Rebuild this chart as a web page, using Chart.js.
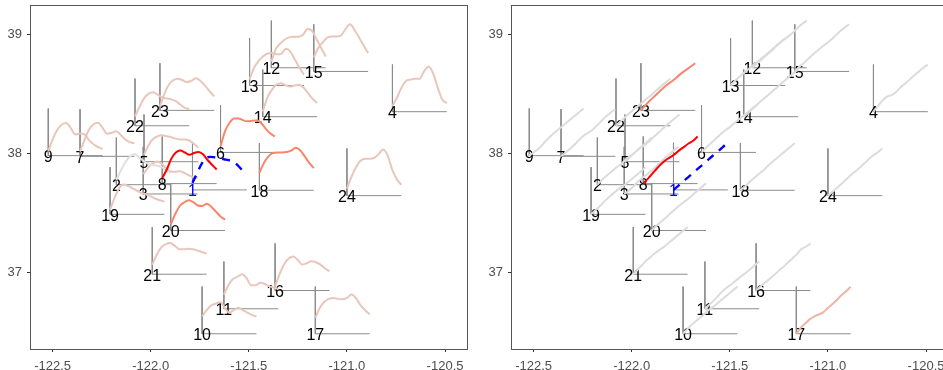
<!DOCTYPE html>
<html>
<head>
<meta charset="utf-8">
<script src="https://cdn.jsdelivr.net/npm/chart.js@4"></script>
<style>
  html, body { margin: 0; padding: 0; background: #fff; overflow: hidden; }
  body { width: 943px; height: 370px; position: relative; }
  .panel { position: absolute; top: 0; width: 471px; height: 370px; }
  #left { left: 0; }
  #right { left: 481px; }
</style>
</head>
<body>
<div class="panel" id="left"><canvas id="seasonChart" width="471" height="370"></canvas></div>
<div class="panel" id="right"><canvas id="trendChart" width="471" height="370"></canvas></div>
<script>
// Station ids and their map position (longitude, latitude)
const stations = ['1','2','3','4','5','6','7','8','9','10','11','12',
                  '13','14','15','16','17','18','19','20','21','22','23','24'];
const lon = [-121.787, -122.175, -122.038, -120.768, -122.034, -121.644, -122.360, -121.941,
             -122.522, -121.738, -121.627, -121.385, -121.496, -121.429, -121.169, -121.366,
             -121.161, -121.446, -122.207, -121.898, -121.992, -122.080, -121.953, -121.000];
const lat = [37.693, 37.737, 37.659, 38.350, 37.930, 38.008, 37.975, 37.746,
             37.981, 36.485, 36.695, 38.719, 38.570, 38.308, 38.688, 36.848,
             36.485, 37.690, 37.488, 37.352, 36.985, 38.232, 38.361, 37.645];

// Axis ticks
const xTicks = [-122.5, -122.0, -121.5, -121.0, -120.5];
const yTicks = [37, 38, 39];

// Seasonal profile per station (scaled 0..1 within the glyph)
const seasonal = [
  [0.15,0.35,0.55,0.68,0.70,0.69,0.67,0.65,0.63,0.60,0.52,0.42,0.36],
  [0.10,0.30,0.48,0.60,0.65,0.58,0.50,0.44,0.42,0.40,0.37,0.30,0.25],
  [0.42,0.55,0.64,0.69,0.65,0.55,0.48,0.47,0.48,0.45,0.40,0.36,0.34],
  [0.12,0.30,0.51,0.65,0.68,0.70,0.70,0.86,0.96,0.81,0.51,0.26,0.18],
  [0.15,0.35,0.48,0.54,0.56,0.54,0.52,0.49,0.47,0.47,0.45,0.38,0.30],
  [0.13,0.45,0.63,0.72,0.72,0.68,0.66,0.67,0.68,0.62,0.50,0.40,0.34],
  [0.10,0.35,0.57,0.68,0.71,0.60,0.48,0.50,0.53,0.45,0.36,0.30,0.28],
  [0.12,0.30,0.53,0.66,0.70,0.66,0.61,0.65,0.67,0.62,0.50,0.40,0.30],
  [0.09,0.35,0.55,0.66,0.69,0.58,0.45,0.47,0.45,0.33,0.24,0.18,0.14],
  [0.37,0.50,0.60,0.64,0.67,0.55,0.45,0.50,0.55,0.50,0.45,0.40,0.36],
  [0.30,0.50,0.63,0.68,0.73,0.65,0.50,0.50,0.55,0.53,0.48,0.45,0.42],
  [0.13,0.40,0.52,0.60,0.65,0.66,0.66,0.70,0.82,0.78,0.60,0.42,0.24],
  [0.13,0.38,0.52,0.62,0.68,0.69,0.66,0.67,0.78,0.72,0.55,0.38,0.23],
  [0.11,0.40,0.57,0.68,0.71,0.67,0.64,0.66,0.68,0.62,0.50,0.38,0.29],
  [0.30,0.50,0.62,0.72,0.74,0.74,0.76,0.90,1.00,0.88,0.72,0.55,0.39],
  [0.09,0.35,0.56,0.68,0.72,0.65,0.55,0.58,0.62,0.60,0.55,0.47,0.41],
  [0.34,0.55,0.68,0.74,0.76,0.74,0.73,0.76,0.83,0.75,0.60,0.50,0.41],
  [0.37,0.58,0.72,0.79,0.80,0.80,0.81,0.84,0.90,0.85,0.72,0.58,0.47],
  [0.10,0.35,0.55,0.63,0.60,0.55,0.50,0.45,0.42,0.38,0.33,0.30,0.27],
  [0.13,0.35,0.52,0.60,0.64,0.60,0.53,0.52,0.57,0.50,0.40,0.30,0.23],
  [0.20,0.42,0.57,0.64,0.66,0.60,0.53,0.53,0.54,0.53,0.50,0.47,0.44],
  [0.20,0.40,0.58,0.68,0.71,0.66,0.60,0.58,0.56,0.52,0.45,0.38,0.35],
  [0.08,0.35,0.55,0.64,0.67,0.64,0.60,0.63,0.68,0.62,0.52,0.40,0.30],
  [0.15,0.40,0.60,0.74,0.78,0.78,0.80,0.88,0.98,0.85,0.55,0.35,0.23]
];

// Trend profile per station (scaled 0..1 within the glyph)
const trend = [
  [0.00,0.08,0.17,0.25,0.33,0.42,0.50,0.58,0.67,0.75,0.83,0.92,1.00],
  [0.00,0.10,0.19,0.27,0.35,0.42,0.51,0.59,0.66,0.75,0.83,0.91,1.00],
  [0.00,0.07,0.16,0.26,0.34,0.41,0.49,0.58,0.68,0.76,0.84,0.93,1.00],
  [0.00,0.12,0.24,0.32,0.35,0.42,0.52,0.60,0.68,0.77,0.85,0.93,1.00],
  [0.00,0.09,0.18,0.26,0.33,0.40,0.49,0.58,0.67,0.76,0.84,0.92,1.00],
  [0.00,0.10,0.19,0.28,0.37,0.45,0.52,0.60,0.68,0.76,0.84,0.92,1.00],
  [0.00,0.08,0.16,0.25,0.35,0.44,0.50,0.57,0.66,0.76,0.85,0.93,1.00],
  [0.00,0.10,0.21,0.32,0.42,0.50,0.56,0.63,0.71,0.78,0.85,0.91,1.00],
  [0.00,0.07,0.14,0.24,0.35,0.44,0.52,0.60,0.68,0.76,0.84,0.92,1.00],
  [0.00,0.11,0.20,0.28,0.36,0.45,0.53,0.60,0.68,0.76,0.84,0.92,1.00],
  [0.00,0.09,0.18,0.28,0.38,0.46,0.53,0.61,0.69,0.76,0.84,0.92,1.00],
  [0.00,0.09,0.17,0.26,0.34,0.43,0.52,0.60,0.67,0.75,0.85,0.93,1.00],
  [0.00,0.10,0.19,0.27,0.35,0.43,0.51,0.59,0.67,0.75,0.84,0.92,1.00],
  [0.00,0.08,0.17,0.26,0.35,0.43,0.51,0.59,0.68,0.76,0.84,0.92,1.00],
  [0.00,0.10,0.18,0.27,0.36,0.44,0.52,0.59,0.67,0.76,0.85,0.93,1.00],
  [0.00,0.09,0.17,0.25,0.33,0.42,0.50,0.59,0.68,0.77,0.88,0.93,1.00],
  [0.00,0.13,0.22,0.31,0.37,0.41,0.46,0.55,0.63,0.72,0.82,0.90,1.00],
  [0.00,0.08,0.17,0.26,0.34,0.42,0.51,0.60,0.68,0.76,0.84,0.92,1.00],
  [0.00,0.09,0.18,0.28,0.37,0.45,0.53,0.60,0.67,0.75,0.83,0.91,1.00],
  [0.00,0.10,0.18,0.26,0.35,0.44,0.52,0.60,0.67,0.75,0.84,0.92,1.00],
  [0.00,0.10,0.20,0.30,0.38,0.46,0.53,0.60,0.68,0.76,0.84,0.92,1.00],
  [0.00,0.09,0.18,0.27,0.35,0.43,0.51,0.59,0.67,0.76,0.84,0.92,1.00],
  [0.00,0.11,0.21,0.30,0.39,0.48,0.56,0.63,0.71,0.79,0.86,0.93,1.00],
  [0.00,0.08,0.16,0.25,0.34,0.43,0.51,0.59,0.68,0.77,0.85,0.92,1.00]
];

// Glyph size in map units
const glyphW = 0.277;
const glyphH = 0.396;

// Line colours per station (styles, kept apart from the data)
const PALE = '#E9C6BB', SALMON = '#F9866A', RED = '#FF0000', BLUE = '#0000FF';
const leftColors = stations.map(s => ({'1': BLUE, '2': '#E0E0E0', '6': SALMON, '8': RED,
                                        '18': SALMON, '20': SALMON}[s] || PALE));
const rightColors = stations.map(s => ({'1': BLUE, '8': RED, '23': '#F7866E',
                                         '17': '#EDB5A6'}[s] || '#DCDCDC'));

// Draw order: lower rank ends up on top
const topColors = [RED, BLUE, SALMON, '#F7866E', '#EDB5A6'];
function rank(c) {
  const r = topColors.indexOf(c);
  return r >= 0 ? r : 9;
}

function buildDatasets(values, colors) {
  const series = stations.map((name, i) => ({
    label: name,
    data: values[i].map((v, k) => ({
      x: lon[i] + glyphW * k / (values[i].length - 1),
      y: lat[i] + glyphH * v
    })),
    showLine: true,
    borderColor: colors[i],
    borderWidth: name === '1' ? 2.4 : 2,
    borderDash: name === '1' ? [8, 7] : [],
    pointRadius: 0,
    cubicInterpolationMode: 'monotone',
    _rank: rank(colors[i])
  }));
  series.sort((a, b) => a._rank - b._rank);

  // glyph reference axes (vertical + horizontal)
  const refs = stations.map((name, i) => ({
    label: 'ref' + name,
    data: [{x: lon[i], y: lat[i] + glyphH}, {x: lon[i], y: lat[i]}, {x: lon[i] + glyphW, y: lat[i]}],
    showLine: true,
    borderColor: '#8C8C8C',
    borderWidth: 1,
    pointRadius: 0,
    tension: 0
  }));
  return series.concat(refs);
}

// Draws the station numbers (between axes and lines) and the panel frame
const glyphPlugin = {
  id: 'glyphPlugin',
  beforeDatasetDraw(chart, args) {
    if (args.index !== stations.length - 1) return;
    const ctx = chart.ctx;
    const x = chart.scales.x, y = chart.scales.y;
    ctx.save();
    ctx.font = '16px "Liberation Sans", Arial, sans-serif';
    ctx.textAlign = 'center';
    ctx.textBaseline = 'middle';
    stations.forEach((name, i) => {
      ctx.fillStyle = name === '1' ? BLUE : '#000000';
      ctx.fillText(name, x.getPixelForValue(lon[i]), y.getPixelForValue(lat[i]) + 2);
    });
    ctx.restore();
  },
  afterDraw(chart) {
    const a = chart.chartArea;
    const ctx = chart.ctx;
    ctx.save();
    ctx.strokeStyle = '#555555';
    ctx.lineWidth = 1;
    ctx.strokeRect(a.left + 0.5, a.top + 0.5, a.right - a.left - 1, a.bottom - a.top);
    ctx.restore();
  }
};

function noEdgePadding(axis) {
  axis.paddingTop = 0;
  axis.paddingBottom = 0;
  axis.paddingLeft = 0;
  axis.paddingRight = 0;
}

function makeChart(id, values, colors) {
  const ctx = document.getElementById(id).getContext('2d');
  return new Chart(ctx, {
    type: 'scatter',
    data: { datasets: buildDatasets(values, colors) },
    options: {
      responsive: false,
      animation: false,
      devicePixelRatio: 1,
      layout: { autoPadding: false, padding: { top: 5, right: 3, left: 0, bottom: 0 } },
      plugins: { legend: { display: false }, tooltip: { enabled: false } },
      scales: {
        x: {
          type: 'linear',
          min: -122.615,
          max: -120.383,
          afterBuildTicks: axis => { axis.ticks = xTicks.map(v => ({ value: v })); },
          afterFit: axis => { axis.height = 21; noEdgePadding(axis); },
          border: { display: false },
          grid: { drawOnChartArea: false, drawTicks: true, tickLength: 3, tickColor: '#333333' },
          ticks: {
            padding: 7,
            color: '#4D4D4D',
            font: { family: '"Liberation Sans", Arial, sans-serif', size: 13 },
            callback: v => v.toFixed(1),
            maxRotation: 0
          }
        },
        y: {
          type: 'linear',
          min: 36.357,
          max: 39.246,
          afterBuildTicks: axis => { axis.ticks = yTicks.map(v => ({ value: v })); },
          afterFit: axis => { axis.width = 30; noEdgePadding(axis); },
          border: { display: false },
          grid: { drawOnChartArea: false, drawTicks: true, tickLength: 3, tickColor: '#333333' },
          ticks: {
            padding: 5,
            color: '#4D4D4D',
            font: { family: '"Liberation Sans", Arial, sans-serif', size: 13 },
            callback: v => String(v)
          }
        }
      }
    },
    plugins: [glyphPlugin]
  });
}

makeChart('seasonChart', seasonal, leftColors);
makeChart('trendChart', trend, rightColors);
</script>
</body>
</html>
